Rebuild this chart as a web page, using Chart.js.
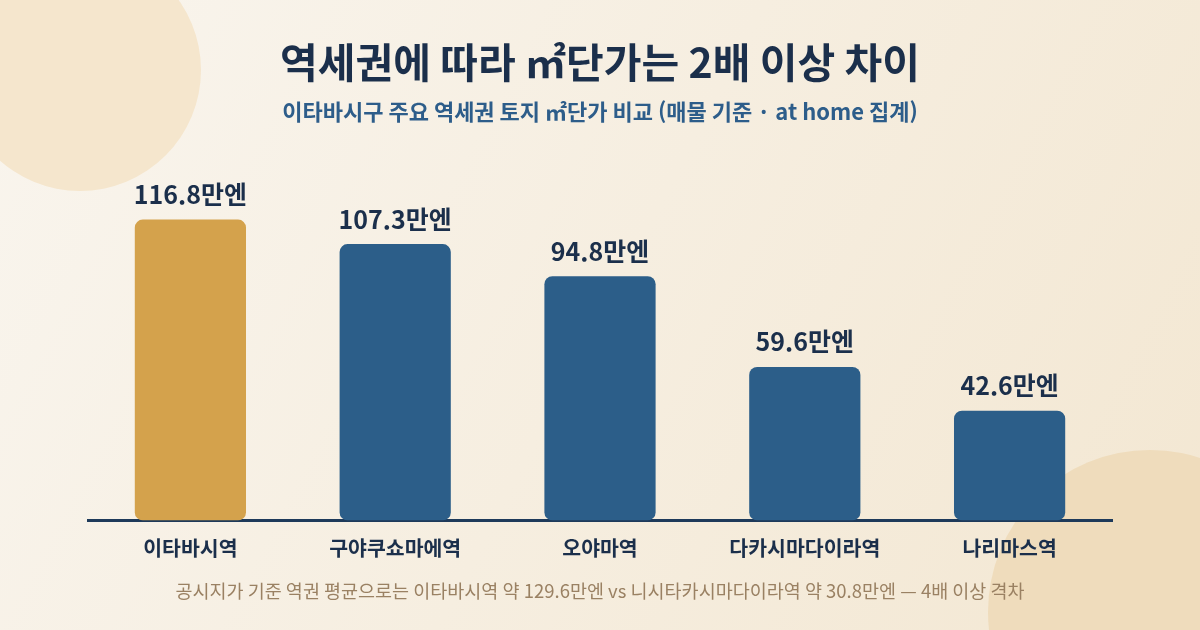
<!DOCTYPE html>
<html lang="ko">
<head>
<meta charset="utf-8">
<script src="https://cdn.jsdelivr.net/npm/chart.js@4"></script>
<style>
  html, body { margin: 0; padding: 0; width: 1200px; height: 630px; overflow: hidden; }
  #wrap { position: relative; width: 1200px; height: 630px; }
  canvas { display: block; }
</style>
</head>
<body>
<div id="wrap"><canvas id="c" width="1200" height="630"></canvas></div>
<script>
const categories = ['이타바시역', '구야쿠쇼마에역', '오야마역', '다카시마다이라역', '나리마스역'];
const pricePerSqm = [116.8, 107.3, 94.8, 59.6, 42.6];
const valueLabels = ['116.8만엔', '107.3만엔', '94.8만엔', '59.6만엔', '42.6만엔'];
const barColors = ['#d4a24c', '#2c5e89', '#2c5e89', '#2c5e89', '#2c5e89'];
const titleText = '역세권에 따라 ㎡단가는 2배 이상 차이';
const subtitleText = '이타바시구 주요 역세권 토지 ㎡단가 비교 (매물 기준 · at home 집계)';
const footerText = '공시지가 기준 역권 평균으로는 이타바시역 약 129.6만엔 vs 니시타카시마다이라역 약 30.8만엔 — 4배 이상 격차';

const FONT = '"Noto Sans CJK KR", "Noto Sans", sans-serif';

const backgroundPlugin = {
  id: 'bg',
  beforeDraw(chart) {
    const { ctx, width, height } = chart;
    ctx.save();
    const g = ctx.createLinearGradient(0, 0, width, height);
    g.addColorStop(0, '#f9f5ee');
    g.addColorStop(1, '#f3e7d2');
    ctx.fillStyle = g;
    ctx.fillRect(0, 0, width, height);
    ctx.fillStyle = '#f5e6cd';
    ctx.beginPath();
    ctx.arc(80, 70, 121, 0, Math.PI * 2);
    ctx.fill();
    ctx.fillStyle = '#efdcbc';
    ctx.beginPath();
    ctx.arc(1150, 612, 162, 0, Math.PI * 2);
    ctx.fill();
    ctx.restore();
  }
};

const valueLabelPlugin = {
  id: 'valueLabels',
  afterDatasetsDraw(chart) {
    const { ctx } = chart;
    const meta = chart.getDatasetMeta(0);
    ctx.save();
    ctx.font = 'bold 25px ' + FONT;
    ctx.fillStyle = '#1b2f4b';
    ctx.textAlign = 'center';
    ctx.textBaseline = 'middle';
    meta.data.forEach((bar, i) => {
      ctx.fillText(valueLabels[i], bar.x, bar.y - 25);
    });
    ctx.restore();
  }
};

const footerPlugin = {
  id: 'footer',
  afterDraw(chart) {
    const { ctx, width } = chart;
    ctx.save();
    ctx.font = '18.5px ' + FONT;
    ctx.fillStyle = '#9a8163';
    ctx.textAlign = 'center';
    ctx.textBaseline = 'middle';
    ctx.fillText(footerText, width / 2, 591);
    ctx.restore();
  }
};

new Chart(document.getElementById('c'), {
  type: 'bar',
  data: {
    labels: categories,
    datasets: [{
      data: pricePerSqm,
      backgroundColor: barColors,
      borderRadius: 8,
      borderSkipped: false,
      categoryPercentage: 1,
      barPercentage: 0.543
    }]
  },
  options: {
    responsive: false,
    animation: false,
    devicePixelRatio: 1,
    layout: { padding: { left: 88, right: 88, top: 0, bottom: 53 } },
    plugins: {
      legend: { display: false },
      tooltip: { enabled: false },
      title: {
        display: true,
        text: titleText,
        color: '#1b2f4b',
        font: { family: FONT, size: 41, weight: 'bold' },
        padding: { top: 38, bottom: 11 }
      },
      subtitle: {
        display: true,
        text: subtitleText,
        color: '#2d5d8a',
        font: { family: FONT, size: 22, weight: '600' },
        padding: { top: 0, bottom: 61 }
      }
    },
    scales: {
      x: {
        grid: { display: false, drawTicks: false },
        border: { display: true, color: '#1e3a5a', width: 3 },
        ticks: {
          color: '#1b2f4b',
          padding: 16,
          font: { family: FONT, size: 20.5, weight: 'bold' }
        }
      },
      y: {
        display: false,
        min: 0,
        max: 130
      }
    }
  },
  plugins: [backgroundPlugin, valueLabelPlugin, footerPlugin]
});
</script>
</body>
</html>
